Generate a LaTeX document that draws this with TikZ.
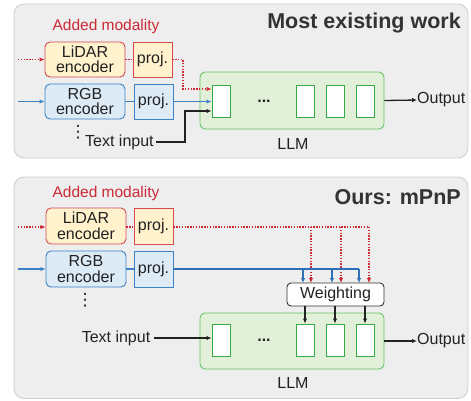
\documentclass[tikz,border=0pt]{standalone}
\usepackage{fontspec}
\setmainfont{Liberation Sans}
\newfontfamily\symfont{DejaVu Sans}
\usetikzlibrary{arrows.meta}
\definecolor{panelfill}{HTML}{EEEEEE}
\definecolor{paneldraw}{HTML}{CCCCCC}
\definecolor{redc}{HTML}{CC2936}
\definecolor{yel}{HTML}{FFF2CC}
\definecolor{bluefill}{HTML}{DDEBF7}
\definecolor{bluedraw}{HTML}{3B82C4}
\definecolor{bluel}{HTML}{2E6FB8}
\definecolor{greenfill}{HTML}{E2F0D9}
\definecolor{greendraw}{HTML}{66C266}
\definecolor{tokdraw}{HTML}{33AA44}
\definecolor{txt}{HTML}{222222}
\definecolor{ttl}{HTML}{333333}
\tikzset{
  panel/.style={draw=paneldraw, fill=panelfill, rounded corners=10pt, line width=0.8pt},
  lbl/.style={inner sep=0pt, text=txt, font=\fontsize{16}{16}\selectfont},
  vdotsstyle/.style={inner sep=0pt, text=txt, font=\symfont\fontsize{17}{17}\selectfont},
  ttlstyle/.style={inner sep=0pt, text=ttl, font=\fontsize{21.5}{22}\selectfont\bfseries},
  addstyle/.style={inner sep=0pt, text=redc, font=\fontsize{15.5}{16}\selectfont},
  encL/.style={draw=redc!85, fill=yel, rounded corners=5pt, line width=0.9pt, minimum width=80pt, minimum height=35pt, inner sep=0pt, align=center, text=txt, font=\fontsize{16}{15.5}\selectfont},
  encR/.style={draw=bluedraw, fill=bluefill, rounded corners=5pt, line width=0.9pt, minimum width=80pt, minimum height=35pt, inner sep=0pt, align=center, text=txt, font=\fontsize{16}{15.5}\selectfont},
  projL/.style={draw=redc!85, fill=yel, line width=0.9pt, minimum width=39pt, minimum height=35pt, inner sep=0pt, text=txt, font=\fontsize{16}{16}\selectfont},
  projR/.style={draw=bluedraw, fill=bluefill, line width=0.9pt, minimum width=39pt, minimum height=35pt, inner sep=0pt, text=txt, font=\fontsize{16}{16}\selectfont},
  llmbox/.style={draw=greendraw, fill=greenfill, rounded corners=5pt, line width=0.9pt, minimum width=184pt, minimum height=57pt, inner sep=0pt},
  tok/.style={draw=tokdraw, fill=white, line width=0.9pt, minimum width=18pt, minimum height=32pt, inner sep=0pt},
  wbox/.style={draw=ttl, fill=white, rounded corners=4pt, line width=0.9pt, minimum width=97pt, minimum height=23pt, inner sep=0pt, text=txt, font=\fontsize{16}{16}\selectfont},
  tip/.style={-{Latex[length=5pt,width=4.5pt]}},
  redline/.style={draw=redc, line width=1.3pt, dash pattern=on 1.4pt off 1.4pt},
  blueline/.style={draw=bluel, line width=1.4pt},
  blackline/.style={draw=txt, line width=1.3pt}
}
\begin{document}
\begin{tikzpicture}[x=1pt,y=-1pt]
\useasboundingbox (0,0) rectangle (471,400);
% ===== top panel =====
\path[panel] (14,4) rectangle (468,158);
\node[ttlstyle, anchor=east] (title1) at (461,23) {Most existing work};
\node[addstyle] (added1) at (106,26) {Added modality};
\node[encL] (lidar1) at (85,59.5) {LiDAR\\encoder};
\node[projL] (projL1) at (152.5,59.5) {proj.};
\node[encR] (rgb1) at (85,101.5) {RGB\\encoder};
\node[projR] (projR1) at (153.5,101.5) {proj.};
\node[vdotsstyle] (vd1) at (78,132.5) {⋮};
\node[lbl, anchor=west] (text1) at (85,142) {Text input};
\node[llmbox] (llm1) at (292,100.5) {};
\node[tok] (t11) at (221,101) {};
\node[tok] (t12) at (305,101) {};
\node[tok] (t13) at (335,101) {};
\node[tok] (t14) at (365,101) {};
\node[lbl, font=\fontsize{16}{16}\selectfont\bfseries] (d1) at (264,101) {...};
\node[lbl] (llmlab1) at (293,144) {LLM};
\node[lbl, anchor=west] (out1) at (417,100) {Output};
\coordinate (in1r) at (18,59.5);
\coordinate (in1b) at (18,101.5);
% arrows top
\draw[redline, tip] (in1r) -- (lidar1.west);
\draw[redline] (lidar1.east) -- (projL1.west);
\draw[redline, tip] (projL1.east) -- (183,59.5) -- (183,89) -- (t11.west |- 0,89);
\draw[blueline, draw=bluedraw, tip] (in1b) -- (rgb1.west);
\draw[blueline, draw=bluedraw] (rgb1.east) -- (projR1.west);
\draw[blueline, draw=bluedraw, tip] (projR1.east) -- (t11.west |- projR1.east);
\draw[blackline, tip] (text1.east) ++(2,0) -- (185,142) -- (185,111) -- (t11.west |- 0,111);
\draw[blackline, tip] (llm1.east) -- (out1.west);
% ===== bottom panel =====
\path[panel] (14,177) rectangle (468,398.5);
\node[ttlstyle, anchor=east] (title2) at (461,197) {Ours: mPnP};
\node[addstyle] (added2) at (106,193) {Added modality};
\node[encL, minimum height=36pt] (lidar2) at (86,226) {LiDAR\\encoder};
\node[projL, minimum height=36pt] (projL2) at (153.5,226) {proj.};
\node[encR, minimum height=36pt] (rgb2) at (86,269) {RGB\\encoder};
\node[projR, minimum height=36pt] (projR2) at (153.5,269) {proj.};
\node[vdotsstyle] (vd2) at (85,300) {⋮};
\node[lbl] (text2) at (116,338) {Text input};
\node[llmbox, minimum height=56pt] (llm2) at (292,341) {};
\node[tok] (t21) at (221,340) {};
\node[tok] (t22) at (305,340) {};
\node[tok] (t23) at (335,340) {};
\node[tok] (t24) at (365,340) {};
\node[lbl, font=\fontsize{16}{16}\selectfont\bfseries] (d2) at (264,340) {...};
\node[wbox] (wgt) at (335.5,294.5) {Weighting};
\node[lbl] (llmlab2) at (293,383) {LLM};
\node[lbl, anchor=west] (out2) at (417,341) {Output};
\coordinate (in2r) at (18,227);
\coordinate (in2b) at (18,269);
% arrows bottom
\draw[redline, tip] (in2r) -- (lidar2.west |- in2r);
\draw[redline] (lidar2.east |- in2r) -- (projL2.west |- in2r);
\draw[redline] (projL2.east |- in2r) -- (369,227);
\foreach \xx in {311,341,369} \draw[redline, tip] (\xx,227) -- (\xx,283);
\draw[blueline, draw=bluedraw, tip] (in2b) -- (rgb2.west);
\draw[blueline, draw=bluedraw] (rgb2.east) -- (projR2.west);
\draw[blueline] (projR2.east) -- (359,269);
\foreach \xx in {303,332,359} \draw[blueline, tip] (\xx,269) -- (\xx,283);
\draw[blackline, tip] (t22.north |- wgt.south) -- (t22.north);
\draw[blackline, tip] (t23.north |- wgt.south) -- (t23.north);
\draw[blackline, tip] (t24.north |- wgt.south) -- (t24.north);
\draw[blackline, tip] (text2.east) ++(4,0) -- (t21.west |- text2.east);
\draw[blackline, tip] (llm2.east) -- (out2.west);
\end{tikzpicture}
\end{document}
